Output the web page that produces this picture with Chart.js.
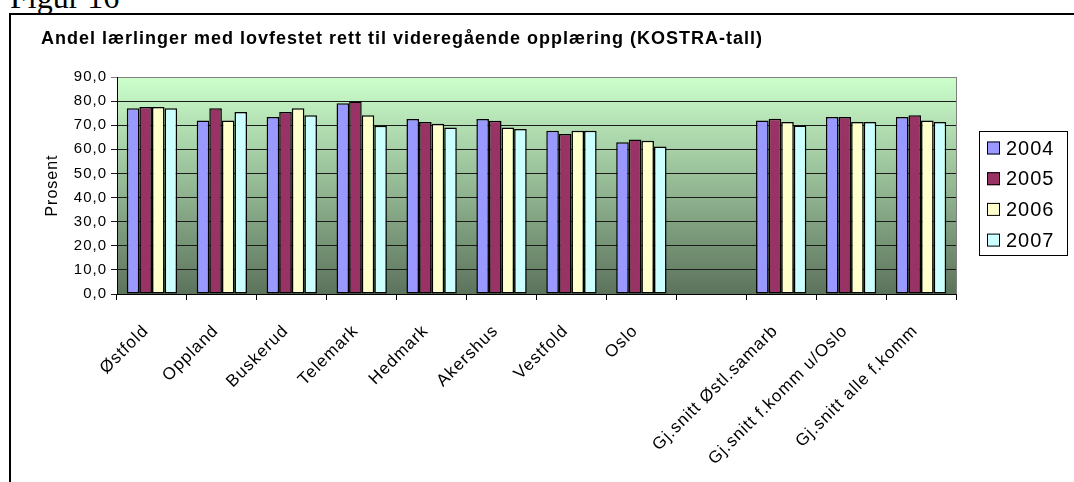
<!DOCTYPE html>
<html>
<head>
<meta charset="utf-8">
<script src="https://cdn.jsdelivr.net/npm/chart.js@4"></script>
<style>
  body { margin: 0; background: #fff; overflow: hidden; }
  #figtxt { position: absolute; left: 10px; top: -19px; font: 32px "Liberation Serif", "Times New Roman", serif; line-height: 32px; color: #000; }
  #frame { position: absolute; left: 9px; top: 13px; width: 1100px; height: 520px; border: 2px solid #000; }
  #c { position: absolute; left: 0; top: 0; }
</style>
</head>
<body>
<div id="figtxt">Figur 16</div>
<div id="frame"></div>
<canvas id="c" width="1074" height="482"></canvas>
<script>
// data
var categories = ['Østfold', 'Oppland', 'Buskerud', 'Telemark', 'Hedmark', 'Akershus', 'Vestfold', 'Oslo', '',
    'Gj.snitt Østl.samarb', 'Gj.snitt f.komm u/Oslo', 'Gj.snitt alle f.komm'];
var years = ['2004', '2005', '2006', '2007'];
var v2004 = [77.0, 72.0, 73.4, 79.1, 72.6, 72.6, 67.7, 62.9, null, 72.0, 73.4, 73.4];
var v2005 = [77.6, 77.0, 75.5, 79.8, 71.3, 71.9, 66.4, 64.1, null, 72.7, 73.4, 74.1];
var v2006 = [77.6, 72.0, 77.0, 74.1, 70.6, 69.1, 67.7, 63.6, null, 71.3, 71.3, 72.0];
var v2007 = [77.0, 75.5, 74.1, 69.8, 69.1, 68.4, 67.7, 61.2, null, 69.9, 71.3, 71.3];
var colors = ['#9999FF', '#993366', '#FFFFCC', '#CCFFFF'];

var FONT = 'Arial, "Liberation Sans", sans-serif';
Chart.defaults.color = '#000';
Chart.defaults.font.family = FONT;

// the source text is a bit spread out, so widen all canvas text a little
var spacingPlugin = {
    id: 'spacing',
    beforeLayout: function(chart) { chart.ctx.letterSpacing = '1px'; },
    beforeDraw: function(chart) { chart.ctx.letterSpacing = '1px'; }
};

// green gradient behind the plot area
var bgPlugin = {
    id: 'bg',
    beforeDraw: function(chart) {
        var a = chart.chartArea, ctx = chart.ctx;
        var g = ctx.createLinearGradient(0, a.top, 0, a.bottom);
        g.addColorStop(0, '#CCFFCC');
        g.addColorStop(1, '#5C735C');
        ctx.save();
        ctx.fillStyle = g;
        ctx.fillRect(a.left, a.top, a.right - a.left, a.bottom - a.top);
        ctx.restore();
    },
    beforeDatasetsDraw: function(chart) {
        var a = chart.chartArea, ctx = chart.ctx;
        ctx.save();
        ctx.strokeStyle = '#808080';
        ctx.lineWidth = 1;
        ctx.beginPath();
        ctx.moveTo(a.right + 0.5, a.top);
        ctx.lineTo(a.right + 0.5, a.bottom);
        ctx.stroke();
        ctx.restore();
    }
};

// framed legend on the right
var legendPlugin = {
    id: 'boxLegend',
    afterDraw: function(chart) {
        var ctx = chart.ctx;
        ctx.save();
        ctx.strokeStyle = '#000';
        ctx.lineWidth = 1;
        ctx.strokeRect(979.5, 131.5, 88, 124);
        ctx.font = '20px ' + FONT;
        ctx.textBaseline = 'middle';
        chart.data.datasets.forEach(function(ds, i) {
            var y = 148 + i * 30.7;
            ctx.fillStyle = ds.backgroundColor;
            ctx.fillRect(987, y - 6.5, 13, 13);
            ctx.strokeRect(987.5, y - 6, 12, 12);
            ctx.fillStyle = '#000';
            ctx.fillText(ds.label, 1006, y + 1);
        });
        ctx.restore();
    }
};

var series = [v2004, v2005, v2006, v2007];
var datasets = years.map(function(y, i) {
    return {
        label: y,
        data: series[i],
        backgroundColor: colors[i],
        borderColor: '#000',
        borderWidth: 1.5,
        borderSkipped: false,
        barPercentage: 1.0,
        categoryPercentage: 0.72
    };
});

new Chart(document.getElementById('c'), {
    type: 'bar',
    data: { labels: categories, datasets: datasets },
    plugins: [spacingPlugin, bgPlugin, legendPlugin],
    options: {
        responsive: false,
        animation: false,
        devicePixelRatio: 1,
        layout: { padding: { left: 41, right: 118, top: 0, bottom: 0 } },
        plugins: {
            legend: { display: false },
            tooltip: { enabled: false },
            title: {
                display: true,
                text: 'Andel lærlinger med lovfestet rett til videregående opplæring (KOSTRA-tall)',
                align: 'start',
                color: '#000',
                font: { size: 18, weight: 'bold', family: FONT },
                padding: { top: 28, bottom: 27.4 }
            }
        },
        scales: {
            x: {
                grid: { offset: true, drawOnChartArea: false, drawTicks: true, tickLength: 6, color: '#000' },
                border: { color: '#000', width: 1 },
                ticks: { autoSkip: false, maxRotation: 45, minRotation: 45, padding: 21, labelOffset: -6, font: { size: 17 } },
                afterFit: function(s) { s.height = 188; }
            },
            y: {
                min: 0,
                max: 90,
                ticks: {
                    stepSize: 10,
                    padding: 4,
                    font: { size: 15 },
                    callback: function(v) { return v.toFixed(1).replace('.', ','); }
                },
                grid: {
                    tickLength: 6,
                    color: function(c) { return c.tick && c.tick.value === 90 ? '#808080' : '#1a1a1a'; }
                },
                border: { color: '#000', width: 1 },
                title: { display: true, text: 'Prosent', font: { size: 16 }, padding: { top: 2, bottom: 0 } },
                afterFit: function(s) { s.width = 76; }
            }
        }
    }
});
</script>
</body>
</html>
